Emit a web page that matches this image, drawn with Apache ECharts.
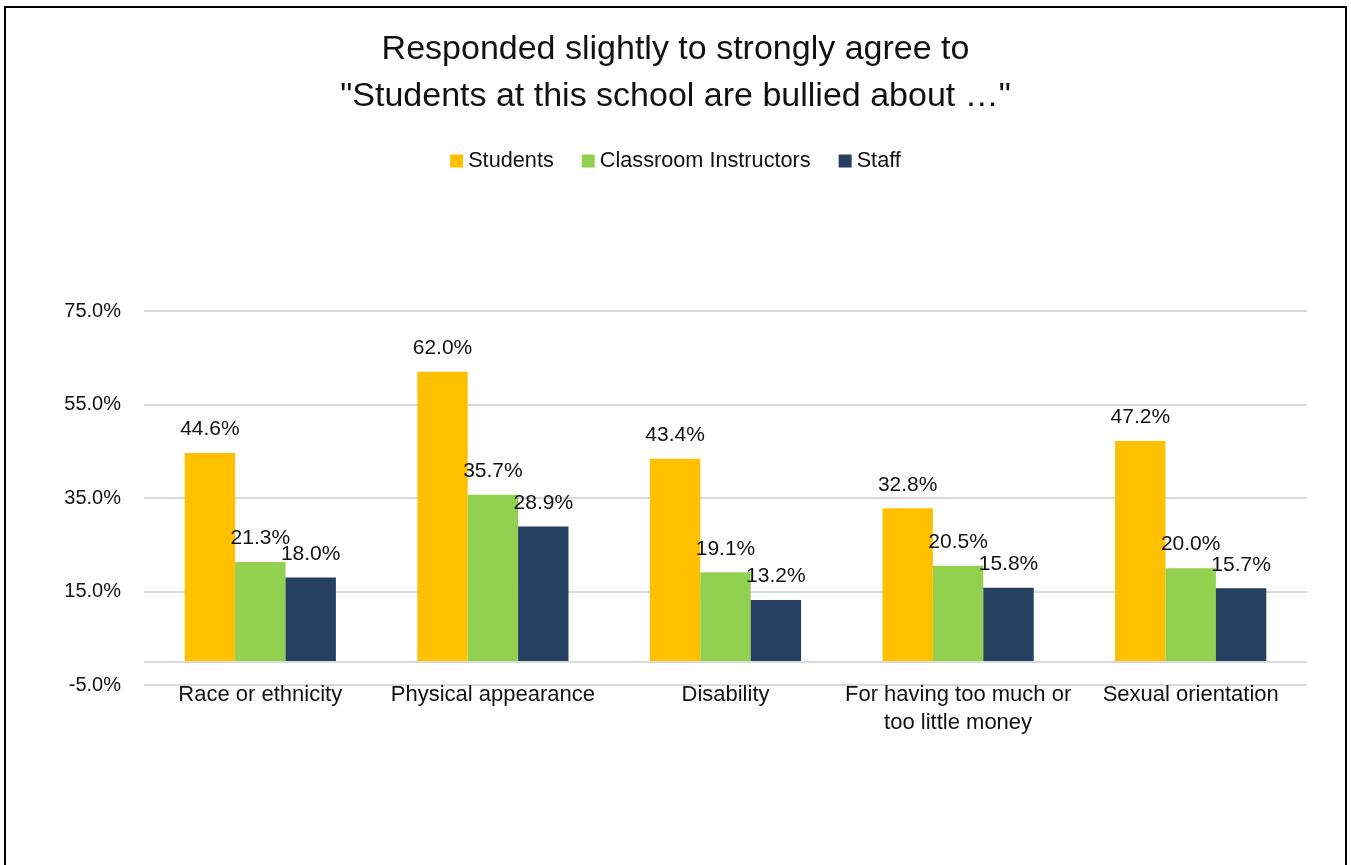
<!DOCTYPE html>
<html>
<head>
<meta charset="utf-8">
<script src="https://cdn.jsdelivr.net/npm/echarts@6/dist/echarts.min.js"></script>
<style>
  html, body { margin: 0; padding: 0; background: #fff; overflow: hidden; }
  #chart { position: absolute; left: 0; top: 0; width: 1351px; height: 865px; }
  #frame { position: absolute; left: 4px; top: 6px; width: 1343px; height: 900px;
           border: 2px solid #000; box-sizing: border-box; pointer-events: none; }
</style>
</head>
<body>
<div id="chart"></div>
<div id="frame"></div>
<script>
// categories and values
const categories = [
  'Race or ethnicity',
  'Physical appearance',
  'Disability',
  'For having too much or\ntoo little money',
  'Sexual orientation'
];
const students = [44.6, 62.0, 43.4, 32.8, 47.2];
const instructors = [21.3, 35.7, 19.1, 20.5, 20.0];
const staff = [18.0, 28.9, 13.2, 15.8, 15.7];

const FONT = '"Liberation Sans", Arial, sans-serif';
const TXT = '#111';

const chart = echarts.init(document.getElementById('chart'));

const barLabel = {
  show: true,
  position: 'top',
  distance: 13,
  color: TXT,
  fontFamily: FONT,
  fontSize: 21,
  formatter: p => p.value.toFixed(1) + '%'
};

chart.setOption({
  backgroundColor: '#fff',
  animation: false,
  title: {
    text: 'Responded slightly to strongly agree to\n"Students at this school are bullied about …"',
    left: 'center',
    top: 26,
    padding: 0,
    textStyle: {
      color: TXT,
      fontFamily: FONT,
      fontSize: 34,
      fontWeight: 'normal',
      lineHeight: 47
    }
  },
  legend: {
    top: 145,
    left: 'center',
    icon: 'rect',
    itemWidth: 13,
    itemHeight: 13,
    itemGap: 28,
    textStyle: { color: TXT, fontFamily: FONT, fontSize: 21.7 }
  },
  grid: { left: 144, right: 44, top: 311, bottom: 180 },
  xAxis: {
    type: 'category',
    data: categories,
    axisLine: { show: false },
    axisTick: { show: false },
    axisLabel: {
      interval: 0,
      margin: -4,
      color: TXT,
      fontFamily: FONT,
      fontSize: 22,
      lineHeight: 28
    }
  },
  yAxis: {
    type: 'value',
    min: -5,
    max: 75,
    interval: 20,
    axisLine: { show: false },
    axisTick: { show: false },
    axisLabel: {
      margin: 23,
      color: TXT,
      fontFamily: FONT,
      fontSize: 20,
      formatter: v => v.toFixed(1) + '%'
    },
    splitLine: { lineStyle: { color: '#d9d9d9', width: 2 } }
  },
  series: [
    {
      name: 'Students',
      type: 'bar',
      data: students,
      barGap: '0%',
      barCategoryGap: '35%',
      itemStyle: { color: '#ffc000' },
      label: barLabel,
      markLine: {
        silent: true,
        symbol: 'none',
        label: { show: false },
        lineStyle: { color: '#d9d9d9', width: 2, type: 'solid' },
        data: [{ yAxis: 0 }]
      }
    },
    {
      name: 'Classroom Instructors',
      type: 'bar',
      data: instructors,
      barGap: '0%',
      barCategoryGap: '35%',
      itemStyle: { color: '#92d050' },
      label: barLabel
    },
    {
      name: 'Staff',
      type: 'bar',
      data: staff,
      barGap: '0%',
      barCategoryGap: '35%',
      itemStyle: { color: '#254061' },
      label: barLabel
    }
  ]
});
</script>
</body>
</html>
